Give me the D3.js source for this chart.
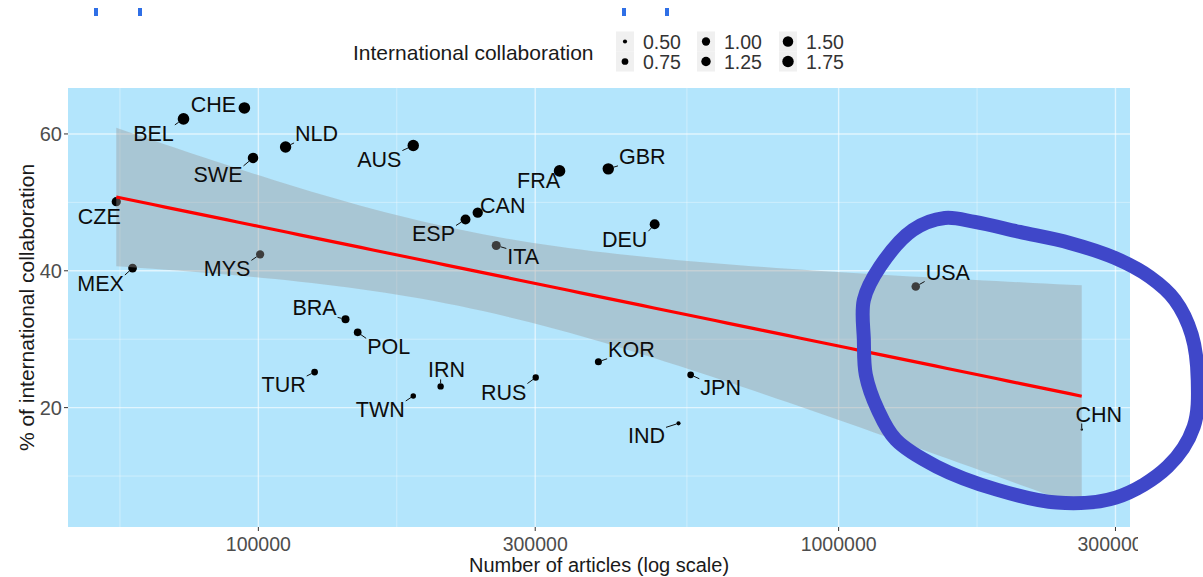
<!DOCTYPE html>
<html>
<head>
<meta charset="utf-8">
<script src="https://cdn.jsdelivr.net/npm/d3@7"></script>
<style>
  body { margin: 0; background: #fff; }
  svg { display: block; font-family: "Liberation Sans", Arial, Helvetica, sans-serif; }
</style>
</head>
<body>
<svg id="chart" width="1203" height="577"></svg>
<script>
// ---- data ----
const countries = ["CZE","BEL","CHE","SWE","NLD","MEX","MYS","AUS","ESP","CAN","ITA","FRA","GBR",
                   "DEU","USA","BRA","POL","TUR","IRN","TWN","RUS","KOR","JPN","IND","CHN"];
const articles = [56900, 74300, 94600, 97900, 111400, 60700, 100700, 184900, 227500, 238800, 257000,
                  330400, 400900, 481900, 1358000, 141300, 148300, 125000, 206100, 184900, 300600,
                  385500, 555900, 529700, 2624000];
const intlShare = [50.1, 62.2, 63.8, 56.5, 58.1, 40.4, 42.4, 58.3, 47.5, 48.5, 43.7, 54.6, 54.9,
                   46.8, 37.7, 32.9, 31.0, 25.2, 23.1, 21.7, 24.4, 26.7, 24.8, 17.7, 16.8];
const collabIndex = [1.2, 1.8, 1.8, 1.5, 1.75, 1.1, 1.0, 1.75, 1.35, 1.45, 1.15, 1.8, 1.75,
                     1.35, 1.05, 0.95, 0.9, 0.75, 0.7, 0.6, 0.7, 0.8, 0.75, 0.5, 0.45];
const xTickValues = [100000, 300000, 1000000, 3000000];
const yTickValues = [20, 40, 60];
const yMinorValues = [10, 30, 50];
const sizeBreaks = [0.5, 0.75, 1.0, 1.25, 1.5, 1.75];

// hand-drawn highlight loop around the two largest producers (log10 articles, % share)
const loopLogArticles = [6.0435, 6.0435, 6.0469, 6.0676, 6.0986, 6.1692, 6.2726, 6.3760, 6.4776,
                         6.5672, 6.6120, 6.6189, 6.6086, 6.5793, 6.5362, 6.4759, 6.3984, 6.3122,
                         6.2347, 6.1830, 6.1279, 6.0710];
const loopShare = [35.75, 29.91, 24.80, 19.69, 15.31, 11.37, 8.01, 6.12, 6.85, 11.37, 17.21, 24.07,
                   30.64, 35.75, 39.11, 41.88, 44.07, 45.68, 47.14, 47.72, 45.97, 40.57];

// label placement (pixel offset of each text label from its point)
const labelOffset = {
  CZE: [-17, 15], BEL: [-30, 15], CHE: [-31, -3], SWE: [-35, 17], NLD: [31, -13],
  AUS: [-34, 14], MEX: [-32, 16], MYS: [-33, 15], ESP: [-32, 15], CAN: [25, -7],
  ITA: [27, 12], FRA: [-21, 10], GBR: [34, -12], DEU: [-30, 16], USA: [32, -14],
  BRA: [-31, -11], POL: [31, 15], TUR: [-31, 13], IRN: [6, -16], TWN: [-33, 14],
  RUS: [-32, 15], KOR: [33, -12], JPN: [30, 13], IND: [-32, 13], CHN: [17, -15]
};

// ---- layout ----
const W = 1203, H = 577;
const panel = { left: 68, right: 1130, top: 88, bottom: 527 };
const svg = d3.select("#chart");

// ---- linear fit of share on log10(articles) with 95% confidence band ----
const lx = articles.map(Math.log10);
const n = lx.length;
const mx = d3.mean(lx), my = d3.mean(intlShare);
const sxx = d3.sum(lx, v => (v - mx) ** 2);
const sxy = d3.sum(lx, (v, i) => (v - mx) * (intlShare[i] - my));
const slope = sxy / sxx;
const intercept = my - slope * mx;
const sse = d3.sum(lx, (v, i) => (intlShare[i] - intercept - slope * v) ** 2);
const sigma = Math.sqrt(sse / (n - 2));
const T975 = 2.0687; // Student t 97.5% quantile, 23 degrees of freedom
const [lxMin, lxMax] = d3.extent(lx);
const fit = d3.range(80).map(k => {
  const x = lxMin + (lxMax - lxMin) * k / 79;
  const yhat = intercept + slope * x;
  const se = sigma * Math.sqrt(1 / n + (x - mx) ** 2 / sxx);
  return { x, y: yhat, lo: yhat - T975 * se, hi: yhat + T975 * se };
});

// ---- scales (5% expansion on each side) ----
const lxPad = (lxMax - lxMin) * 0.05;
const x = d3.scaleLog()
  .domain([10 ** (lxMin - lxPad), 10 ** (lxMax + lxPad)])
  .range([panel.left, panel.right]);
const yLo = Math.min(d3.min(intlShare), d3.min(fit, d => d.lo));
const yHi = Math.max(d3.max(intlShare), d3.max(fit, d => d.hi));
const yPad = (yHi - yLo) * 0.05;
const y = d3.scaleLinear().domain([yLo - yPad, yHi + yPad]).range([panel.bottom, panel.top]);

const [cMin, cMax] = d3.extent(collabIndex);
const r = v => 1.2 + 4.6 * Math.sqrt(Math.max(0, (v - cMin) / (cMax - cMin)));

// ---- panel & grid ----
svg.append("rect")
  .attr("x", panel.left).attr("y", panel.top)
  .attr("width", panel.right - panel.left).attr("height", panel.bottom - panel.top)
  .attr("fill", "#b3e5fc");

const [d0, d1] = x.domain().map(Math.log10);
const majorL = xTickValues.map(Math.log10);
const xMinorL = [];
for (let i = 0; i < majorL.length - 1; i++) xMinorL.push((majorL[i] + majorL[i + 1]) / 2);
xMinorL.unshift(majorL[0] - (majorL[1] - majorL[0]) / 2);
const xMinor = xMinorL.filter(v => v > d0 && v < d1).map(v => 10 ** v);

const grid = svg.append("g");
grid.selectAll(".ymin").data(yMinorValues).join("line")
  .attr("x1", panel.left).attr("x2", panel.right)
  .attr("y1", d => y(d)).attr("y2", d => y(d))
  .attr("stroke", "#fff").attr("stroke-opacity", 0.45).attr("stroke-width", 0.8);
grid.selectAll(".xmin").data(xMinor).join("line")
  .attr("y1", panel.top).attr("y2", panel.bottom)
  .attr("x1", d => x(d)).attr("x2", d => x(d))
  .attr("stroke", "#fff").attr("stroke-opacity", 0.45).attr("stroke-width", 0.8);
grid.selectAll(".ymaj").data(yTickValues).join("line")
  .attr("x1", panel.left).attr("x2", panel.right)
  .attr("y1", d => y(d)).attr("y2", d => y(d))
  .attr("stroke", "#fff").attr("stroke-opacity", 0.6).attr("stroke-width", 1.4);
grid.selectAll(".xmaj").data(xTickValues).join("line")
  .attr("y1", panel.top).attr("y2", panel.bottom)
  .attr("x1", d => x(d)).attr("x2", d => x(d))
  .attr("stroke", "#fff").attr("stroke-opacity", 0.6).attr("stroke-width", 1.4);

// ---- points ----
const pts = countries.map((c, i) => ({
  c, px: x(articles[i]), py: y(intlShare[i]), rad: r(collabIndex[i])
}));
svg.append("g").selectAll("circle").data(pts).join("circle")
  .attr("cx", d => d.px).attr("cy", d => d.py).attr("r", d => d.rad)
  .attr("fill", "#000");

// ---- confidence band and fitted line ----
svg.append("path").datum(fit)
  .attr("d", d3.area().x(d => x(10 ** d.x)).y0(d => y(d.lo)).y1(d => y(d.hi)))
  .attr("fill", "#999999").attr("fill-opacity", 0.4);
svg.append("path").datum(fit)
  .attr("d", d3.line().x(d => x(10 ** d.x)).y(d => y(d.y)))
  .attr("fill", "none").attr("stroke", "#ff0000").attr("stroke-width", 3.2);

// ---- repelled-style labels with leader segments ----
const labG = svg.append("g");
pts.forEach(p => {
  const [dx, dy] = labelOffset[p.c];
  const lxp = p.px + dx, lyp = p.py + dy;
  const t = labG.append("text")
    .attr("x", lxp).attr("y", lyp)
    .attr("text-anchor", "middle").attr("dominant-baseline", "central")
    .attr("font-size", 21.5).attr("fill", "#0d0d0d").text(p.c);
  const w = t.node().getComputedTextLength();
  const bx0 = lxp - w / 2 - 1, bx1 = lxp + w / 2 + 1, by0 = lyp - 9, by1 = lyp + 9;
  const qx = Math.max(bx0, Math.min(p.px, bx1));
  const qy = Math.max(by0, Math.min(p.py, by1));
  const len = Math.hypot(qx - p.px, qy - p.py);
  if (len - p.rad > 3) {
    const ux = (qx - p.px) / len, uy = (qy - p.py) / len;
    labG.insert("line", "text")
      .attr("x1", p.px + ux * p.rad).attr("y1", p.py + uy * p.rad)
      .attr("x2", qx).attr("y2", qy)
      .attr("stroke", "#111").attr("stroke-width", 1);
  }
});

// ---- axes ----
const axG = svg.append("g");
axG.selectAll(".yt").data(yTickValues).join("line")
  .attr("x1", panel.left - 4).attr("x2", panel.left)
  .attr("y1", d => y(d)).attr("y2", d => y(d))
  .attr("stroke", "#333").attr("stroke-width", 1);
axG.selectAll(".yl").data(yTickValues).join("text")
  .attr("x", panel.left - 6).attr("y", d => y(d))
  .attr("text-anchor", "end").attr("dominant-baseline", "central")
  .attr("font-size", 20).attr("fill", "#4d4d4d").text(d => d);

svg.append("clipPath").attr("id", "xlabclip")
  .append("rect").attr("x", 0).attr("y", 0).attr("width", 1138).attr("height", H);
axG.selectAll(".xt").data(xTickValues).join("line")
  .attr("x1", d => x(d)).attr("x2", d => x(d))
  .attr("y1", panel.bottom).attr("y2", panel.bottom + 4)
  .attr("stroke", "#333").attr("stroke-width", 1);
axG.append("g").attr("clip-path", "url(#xlabclip)")
  .selectAll("text").data(xTickValues).join("text")
  .attr("x", d => x(d)).attr("y", panel.bottom + 16.5)
  .attr("text-anchor", "middle").attr("dominant-baseline", "central")
  .attr("font-size", 19.5).attr("fill", "#4d4d4d").text(d => d3.format("d")(d));

svg.append("text")
  .attr("x", (panel.left + panel.right) / 2).attr("y", 565)
  .attr("text-anchor", "middle").attr("dominant-baseline", "central")
  .attr("font-size", 20).attr("fill", "#1a1a1a")
  .text("Number of articles (log scale)");
svg.append("text")
  .attr("transform", `translate(26,${(panel.top + panel.bottom) / 2}) rotate(-90)`)
  .attr("text-anchor", "middle").attr("dominant-baseline", "central")
  .attr("font-size", 21).attr("fill", "#1a1a1a")
  .text("% of international collaboration");

// ---- size legend ----
const leg = svg.append("g");
leg.append("text").attr("x", 353).attr("y", 52)
  .attr("dominant-baseline", "central").attr("font-size", 21).attr("fill", "#1a1a1a")
  .text("International collaboration");
const colX = [625, 706, 788], rowY = [41.5, 61.5];
sizeBreaks.forEach((v, i) => {
  const cx = colX[Math.floor(i / 2)], cy = rowY[i % 2];
  leg.append("rect").attr("x", cx - 9).attr("y", cy - 10)
    .attr("width", 18).attr("height", 20).attr("fill", "#f0f0f0");
  leg.append("circle").attr("cx", cx).attr("cy", cy).attr("r", r(v)).attr("fill", "#000");
  leg.append("text").attr("x", cx + 18).attr("y", cy)
    .attr("dominant-baseline", "central").attr("font-size", 19.5).attr("fill", "#333")
    .text(d3.format(".2f")(v));
});

// ---- highlight loop ----
const loopPts = loopLogArticles.map((v, i) => [x(10 ** v), y(loopShare[i])]);
svg.append("path")
  .attr("d", d3.line().curve(d3.curveCatmullRomClosed)(loopPts))
  .attr("fill", "none").attr("stroke", "#3f47c9").attr("stroke-width", 14)
  .attr("stroke-linejoin", "round");

// ---- fragments of the line of text above the figure ----
svg.append("g").selectAll("rect").data([96, 140, 624, 667]).join("rect")
  .attr("x", d => d - 2).attr("y", 8).attr("width", 4).attr("height", 8)
  .attr("fill", "#2f6fe6");
</script>
</body>
</html>
